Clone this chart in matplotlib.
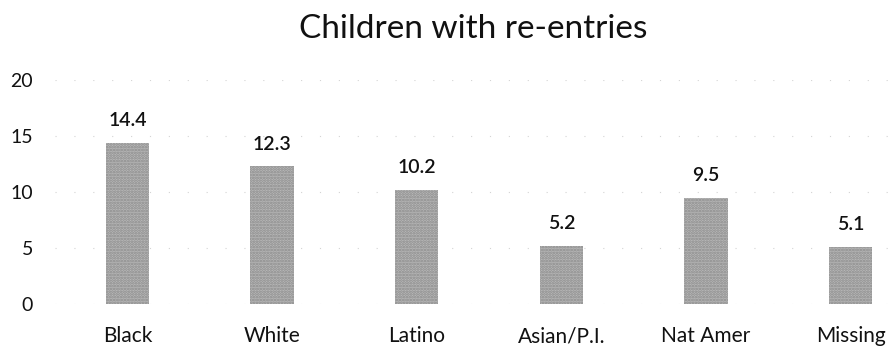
import matplotlib
matplotlib.use("Agg")
import matplotlib.pyplot as plt

categories = ["Black", "White", "Latino", "Asian/P.I.", "Nat Amer", "Missing"]
values = [14.4, 12.3, 10.2, 5.2, 9.5, 5.1]
y_ticks = [0, 5, 10, 15, 20]
title = "Children with re-entries"

plt.rcParams["font.family"] = ["Lato", "DejaVu Sans"]
plt.rcParams["hatch.linewidth"] = 1.3

fig = plt.figure(figsize=(8.91, 3.5), dpi=100)
# plot area: left edge at x=55px, runs past the right edge of the canvas
left, right, top, bottom = 55.2, 923.0, 80.0, 304.0
ax = fig.add_axes([left / 891, (350 - bottom) / 350, (right - left) / 891, (bottom - top) / 350])

x = list(range(len(categories)))
ax.bar(x, values, width=0.30, color="#b8b8b8", edgecolor="#8a8a8a",
       hatch="......", linewidth=0, zorder=2)

for xi, v in zip(x, values):
    ax.annotate(f"{v:.1f}", (xi, v), xytext=(0, 12), textcoords="offset points",
                ha="center", va="baseline", fontsize=14, fontweight="semibold",
                color="#111111")

ax.set_xlim(-0.5, len(categories) - 0.5)
ax.set_ylim(0, 20)
ax.set_yticks(y_ticks)
ax.set_xticks(x)
ax.set_xticklabels(categories)
ax.tick_params(axis="both", length=0, colors="#111111")
ax.tick_params(axis="y", pad=16, labelsize=14)
ax.tick_params(axis="x", pad=16, labelsize=15)
ax.yaxis.grid(True, color="#d4d4d4", linestyle=(0, (1, 16)), linewidth=0.8, zorder=0)
for s in ax.spines.values():
    s.set_visible(False)

fig.text(473 / 891, 1 - 38 / 350, title, ha="center", va="baseline",
         fontsize=24, color="#111111")

fig.savefig("out.png", dpi=100)
